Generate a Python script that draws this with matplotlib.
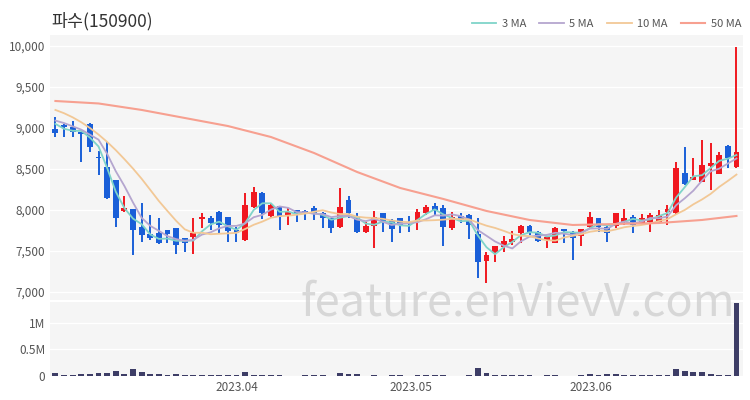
import numpy as np
import pandas as pd
import matplotlib
matplotlib.use('Agg')
import matplotlib.pyplot as plt

plt.rcParams['font.family'] = ['Noto Sans CJK KR', 'DejaVu Sans']

# ---- data ----
title = '파수(150900)'

opens = [8984, 9037, 9016, 8945, 9049, 8650, 8520, 8366, 7990, 8008,
         7797, 7707, 7715, 7756, 7776, 7654, 7675, 7886, 7898, 7980,
         7910, 7756, 7634, 8041, 8211, 7927, 8049, 7927, 8000, 7980,
         8020, 7967, 7898, 7797, 8122, 7919, 7736, 7805, 7960, 7878,
         7898, 7858, 7858, 7960, 8049, 8020, 7776, 7927, 7939, 7707,
         7382, 7492, 7553, 7614, 7715, 7805, 7736, 7634, 7602, 7764,
         7736, 7683, 7789, 7898, 7789, 7809, 7858, 7910, 7837, 7858,
         7858, 7980, 7959, 8447, 8366, 8345, 8536, 8439, 8784, 8520]
highs = [9138, 9045, 9089, 8950, 9057, 8723, 8833, 8370, 8170, 8010,
         8089, 7939, 7898, 7760, 7780, 7660, 7898, 7959, 7925, 7985,
         7915, 7797, 8203, 8277, 8215, 8081, 8053, 8020, 8005, 8000,
         8049, 7970, 7900, 8272, 8171, 7960, 7858, 7992, 7965, 7885,
         7900, 7927, 8008, 8061, 8081, 8061, 7980, 7967, 7945, 7898,
         7492, 7565, 7683, 7748, 7815, 7815, 7740, 7680, 7789, 7770,
         7740, 7770, 7980, 7900, 7817, 7965, 8008, 7939, 7951, 7967,
         8000, 8061, 8589, 8772, 8630, 8854, 8813, 8711, 8790, 9990]
lows = [8894, 8894, 8886, 8590, 8711, 8427, 8130, 7797, 7980, 7450,
        7614, 7634, 7590, 7593, 7463, 7491, 7463, 7780, 7760, 7716,
        7614, 7614, 7626, 8020, 7886, 7898, 7756, 7817, 7858, 7878,
        7878, 7776, 7716, 7776, 7898, 7716, 7716, 7533, 7736, 7614,
        7716, 7736, 7756, 7939, 7939, 7561, 7756, 7845, 7642, 7167,
        7114, 7370, 7492, 7573, 7602, 7695, 7614, 7533, 7600, 7602,
        7390, 7561, 7764, 7736, 7614, 7776, 7817, 7715, 7830, 7736,
        7850, 7817, 7950, 8310, 8360, 8340, 8244, 8435, 8508, 8515]
closes = [8935, 9008, 8955, 8930, 8764, 8630, 8142, 7898, 8030, 7756,
          7695, 7654, 7593, 7707, 7573, 7593, 7715, 7910, 7845, 7817,
          7740, 7716, 8061, 8224, 7960, 8061, 7911, 7972, 7960, 7960,
          7960, 7898, 7785, 8033, 7960, 7736, 7805, 7919, 7858, 7764,
          7817, 7837, 7980, 8041, 8000, 7797, 7911, 7880, 7817, 7370,
          7451, 7561, 7626, 7646, 7805, 7736, 7626, 7667, 7776, 7748,
          7654, 7764, 7919, 7797, 7715, 7959, 7898, 7817, 7898, 7939,
          7939, 8008, 8508, 8317, 8406, 8549, 8577, 8671, 8630, 8711]
volumes = [0.065, 0.02, 0.02, 0.04, 0.04, 0.065, 0.06, 0.10, 0.045, 0.13,
           0.09, 0.05, 0.05, 0.02, 0.045, 0.03, 0.03, 0.025, 0.02, 0.02,
           0.02, 0.02, 0.08, 0.02, 0.02, 0.02, 0.02, 0.015, 0.01, 0.02,
           0.02, 0.02, 0.015, 0.06, 0.04, 0.04, 0.015, 0.03, 0.01, 0.02,
           0.02, 0.01, 0.02, 0.02, 0.02, 0.03, 0.01, 0.01, 0.02, 0.16,
           0.06, 0.02, 0.02, 0.02, 0.02, 0.02, 0.01, 0.02, 0.02, 0.01,
           0.01, 0.02, 0.05, 0.025, 0.04, 0.04, 0.02, 0.02, 0.02, 0.02,
           0.02, 0.02, 0.13, 0.10, 0.08, 0.09, 0.05, 0.03, 0.03, 1.37]  # millions

# moving averages before the window is full
ma3_head = [9050, 8990]
ma5_head = [9090, 9060, 9020, 8980]
ma10_head = [9220, 9180, 9130, 9070, 9000, 8920, 8830, 8730, 8620]
ma50_idx = [0, 5, 10, 15, 20, 25, 30, 35, 40, 45, 50, 55, 60, 65, 70, 75, 79]
ma50_val = [9329, 9299, 9220, 9122, 9024, 8890, 8695, 8463, 8268, 8134,
            7988, 7878, 7817, 7829, 7841, 7878, 7927]

month_pos = [21.1, 41.2, 62.1]
month_labels = ['2023.04', '2023.05', '2023.06']

# ---- compute ----
o = np.array(opens); h = np.array(highs); l = np.array(lows); c = np.array(closes)
vol = np.array(volumes) * 1e6
x = np.arange(len(c))
cs = pd.Series(c, dtype=float)

def ma(n, head):
    m = cs.rolling(n).mean().to_numpy()
    m[:len(head)] = head
    return m

ma3 = ma(3, ma3_head)
ma5 = ma(5, ma5_head)
ma10 = ma(10, ma10_head)

up_col = '#f01820'
dn_col = '#1a5fd8'
cols = np.where(c >= o, up_col, dn_col)

fig = plt.figure(figsize=(7.5, 4), dpi=100)
ax = fig.add_axes([0.067, 0.25, 0.923, 0.6625])
axv = fig.add_axes([0.067, 0.0575, 0.923, 0.1875], sharex=ax)

for a in (ax, axv):
    a.set_facecolor('#f5f5f5')
    for s in a.spines.values():
        s.set_visible(False)
    a.grid(True, axis='y', color='white', lw=1.0)
    a.set_axisbelow(True)
    a.tick_params(length=0, labelsize=8.5, labelcolor='#555555')

# candles
ax.vlines(x, l, h, colors=cols, lw=1.4, zorder=2)
body = np.maximum(np.abs(c - o), 22)
ax.bar(x, body, bottom=np.minimum(o, c), width=0.68, color=cols, zorder=3)

# moving averages
ax.plot(x, ma3, color='#7fd4c9', lw=1.3, zorder=4, label='3 MA')
ax.plot(x, ma5, color='#b5a6cf', lw=1.3, zorder=4, label='5 MA')
ax.plot(x, ma10, color='#f2c896', lw=1.3, zorder=4, label='10 MA')
ax.plot(ma50_idx, ma50_val, color='#f7a090', lw=1.5, zorder=4, label='50 MA')

ax.set_ylim(6902, 10134)
ax.set_xlim(-0.6, 79.7)
ax.set_yticks([7000, 7500, 8000, 8500, 9000, 9500, 10000])
ax.set_yticklabels(['{:,}'.format(v) for v in [7000, 7500, 8000, 8500, 9000, 9500, 10000]])
ax.tick_params(axis='x', labelbottom=False)

# volume
axv.bar(x, vol, width=0.68, color='#3d3d66')
axv.set_ylim(-0.01e6, 1.38e6)
axv.set_yticks([0, 0.5e6, 1e6])
axv.set_yticklabels(['0', '0.5M', '1M'])
axv.set_xticks(month_pos)
axv.set_xticklabels(month_labels)
axv.tick_params(axis='x', pad=3)

fig.text(0.069, 0.948, title, fontsize=12.5, color='#333333', va='center')
leg = ax.legend(loc='lower right', bbox_to_anchor=(1.005, 1.005), ncol=4, frameon=False,
                fontsize=8, handlelength=2.2, handletextpad=0.5, columnspacing=1.2,
                borderaxespad=0)
for t in leg.get_texts():
    t.set_color('#555555')

# watermark
fig.text(0.69, 0.245, 'feature.enVievV.com', fontsize=32.5, color='#d0d0d0', alpha=0.8,
         ha='center', va='center', zorder=10)

fig.savefig('out.png', dpi=100, facecolor='white')
